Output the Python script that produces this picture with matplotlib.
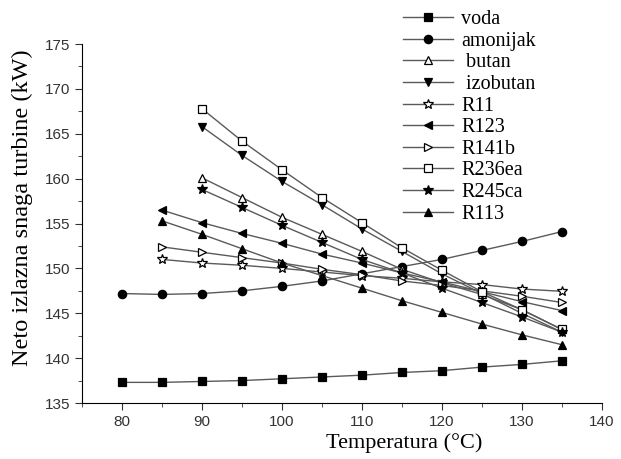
import matplotlib
matplotlib.use('Agg')
import matplotlib.pyplot as plt
from matplotlib.ticker import MultipleLocator

# Temperatura (°C)
temp_all = [80, 85, 90, 95, 100, 105, 110, 115, 120, 125, 130, 135]
temp_85 = temp_all[1:]
temp_90 = temp_all[2:]

voda = [137.3, 137.3, 137.4, 137.5, 137.7, 137.9, 138.1, 138.4, 138.6, 139.0, 139.3, 139.7]
amonijak = [147.2, 147.1, 147.2, 147.5, 148.0, 148.6, 149.4, 150.2, 151.0, 152.0, 153.0, 154.1]
butan = [160.1, 157.9, 155.7, 153.8, 151.9, 149.9, 148.4, 147.1, 145.4, 143.2]
izobutan = [165.8, 162.6, 159.7, 157.1, 154.4, 151.9, 149.4, 147.2, 145.0, 142.9]
r11 = [151.0, 150.6, 150.35, 150.0, 149.6, 149.2, 148.9, 148.5, 148.2, 147.7, 147.45]
r123 = [156.5, 155.1, 153.9, 152.8, 151.6, 150.6, 149.5, 148.5, 147.4, 146.3, 145.3]
r141b = [152.4, 151.8, 151.2, 150.6, 149.9, 149.3, 148.6, 148.1, 147.5, 146.9, 146.2]
r236ea = [167.8, 164.2, 161.0, 157.9, 155.1, 152.3, 149.8, 147.4, 145.4, 143.2]
r245ca = [158.8, 156.8, 154.8, 152.9, 151.0, 149.5, 147.8, 146.2, 144.6, 142.9]
r113 = [155.3, 153.8, 152.2, 150.6, 149.2, 147.8, 146.4, 145.1, 143.8, 142.6, 141.5]

series = [
    ('voda', temp_all, voda, 's', 'k'),
    ('amonijak', temp_all, amonijak, 'o', 'k'),
    (' butan', temp_90, butan, '^', 'w'),
    (' izobutan', temp_90, izobutan, 'v', 'k'),
    ('R11', temp_85, r11, '*', 'w'),
    ('R123', temp_85, r123, '<', 'k'),
    ('R141b', temp_85, r141b, '>', 'w'),
    ('R236ea', temp_90, r236ea, 's', 'w'),
    ('R245ca', temp_90, r245ca, '*', 'k'),
    ('R113', temp_85, r113, '^', 'k'),
]

fig = plt.figure(figsize=(6.21, 4.59), dpi=100)
ax = fig.add_axes([0.132, 0.122, 0.837, 0.782])

for label, x, y, m, fc in series:
    ms = 7.5 if m == '*' else 6
    ax.plot(x, y, color='#5a5a5a', linewidth=1.0, marker=m, markersize=ms,
            markerfacecolor=fc, markeredgecolor='k', markeredgewidth=0.9, label=label)

ax.set_xlim(75, 140)
ax.set_ylim(135, 175)
ax.xaxis.set_major_locator(MultipleLocator(10))
ax.xaxis.set_minor_locator(MultipleLocator(5))
ax.yaxis.set_major_locator(MultipleLocator(5))
ax.yaxis.set_minor_locator(MultipleLocator(2.5))
ax.spines['top'].set_visible(False)
ax.spines['right'].set_visible(False)
ax.tick_params(which='both', direction='out', color='#333333')
ax.tick_params(which='major', length=5)
ax.tick_params(which='minor', length=3)
for lbl in ax.get_xticklabels() + ax.get_yticklabels():
    lbl.set_family('Liberation Sans')
    lbl.set_fontsize(11)
    lbl.set_color('#333333')

ax.set_xlabel('Temperatura (°C)', family='Liberation Serif', fontsize=16)
ax.set_ylabel('Neto izlazna snaga turbine (kW)', family='Liberation Serif', fontsize=17.5)
ax.yaxis.set_label_coords(-0.095, 0.543)
ax.xaxis.set_label_coords(0.62, -0.085)

fig.legend(loc='upper left', bbox_to_anchor=(0.632, 1.0), frameon=False,
           prop={'family': 'Liberation Serif', 'size': 14.5}, handlelength=2.5,
           labelspacing=0.125, borderpad=0.0, handletextpad=0.4)

fig.savefig('out.png', dpi=100)
